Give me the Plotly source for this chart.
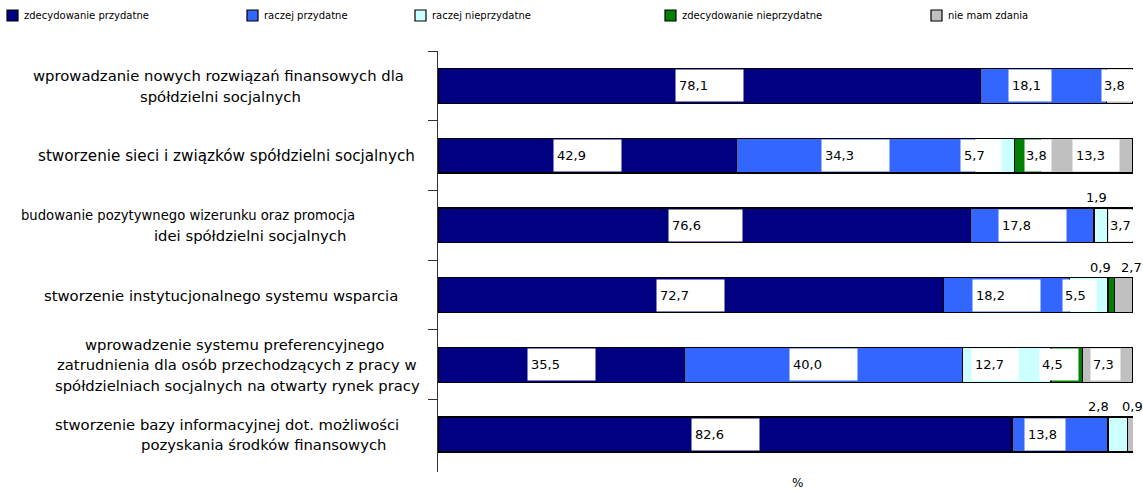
import plotly.graph_objects as go

# ---------------- data ----------------
categories = [
    "wprowadzanie nowych rozwiązań finansowych dla spółdzielni socjalnych",
    "stworzenie sieci i związków spółdzielni socjalnych",
    "budowanie pozytywnego wizerunku oraz promocja idei spółdzielni socjalnych",
    "stworzenie instytucjonalnego systemu wsparcia",
    "wprowadzenie systemu preferencyjnego zatrudnienia dla osób przechodzących z pracy w spółdzielniach socjalnych na otwarty rynek pracy",
    "stworzenie bazy informacyjnej dot. możliwości pozyskania środków finansowych",
]
series_names = ["zdecydowanie przydatne", "raczej przydatne", "raczej nieprzydatne",
                "zdecydowanie nieprzydatne", "nie mam zdania"]
zdecydowanie_przydatne = [78.1, 42.9, 76.6, 72.7, 35.5, 82.6]
raczej_przydatne = [18.1, 34.3, 17.8, 18.2, 40.0, 13.8]
raczej_nieprzydatne = [None, 5.7, 1.9, 5.5, 12.7, 2.8]
zdecydowanie_nieprzydatne = [None, 3.8, None, 0.9, 4.5, None]
nie_mam_zdania = [3.8, 13.3, 3.7, 2.7, 7.3, 0.9]

series_values = [zdecydowanie_przydatne, raczej_przydatne, raczej_nieprzydatne,
                 zdecydowanie_nieprzydatne, nie_mam_zdania]
colors = ["#000080", "#3366FF", "#CCFFFF", "#008000", "#C0C0C0"]

# ---------------- layout constants (pixels) ----------------
W, H = 1143, 490
L, R, T, B = 438, 10, 51, 18
PW = W - L - R
PH = H - T - B
FONT = "DejaVu Sans"


def px_to_xpaper(px):
    return (px - L) / PW


def px_to_ypaper(py):
    return 1 - (py - T) / PH


fig = go.Figure()

for name, vals, col in zip(series_names, series_values, colors):
    fig.add_trace(go.Bar(
        y=categories, x=vals, name=name, orientation="h",
        marker=dict(color=col, line=dict(color="#000000", width=1.3)),
        showlegend=False, hoverinfo="x+name",
    ))

# ---------------- manual legend ----------------
shapes = []
annotations = []
legend_symbol_left = [7, 247, 415, 665, 931]
for name, col, sx in zip(series_names, colors, legend_symbol_left):
    shapes.append(dict(
        type="rect", xref="paper", yref="paper",
        x0=px_to_xpaper(sx), x1=px_to_xpaper(sx + 11),
        y0=px_to_ypaper(21), y1=px_to_ypaper(10),
        fillcolor=col, line=dict(color="#000", width=1.2),
    ))
    annotations.append(dict(
        x=px_to_xpaper(sx + 15), y=px_to_ypaper(15.5), xref="paper", yref="paper",
        text=name, showarrow=False, xanchor="left", yanchor="middle",
        font=dict(family=FONT, size=10, color="#000"),
    ))

# ---------------- value label styles ----------------
# (row, series) -> (mode, box width px, xshift px, text padding px)
label_style = {
    (0, 1): ("in", 42, -14, 3), (0, 4): ("in", 31, -2, 2),
    (1, 2): ("in", 40, -13, 3), (1, 3): ("in", 26, 11, 1), (1, 4): ("in", 46, 9, 3),
    (2, 0): ("in", 73, 1, 3), (2, 2): ("out", 0, -4, 0), (2, 4): ("in", 24, 1, 1),
    (3, 2): ("in", 33, -9, 2), (3, 3): ("out", 0, -11, 0), (3, 4): ("out", 0, 8, 0),
    (4, 2): ("in", 46, -12, 3), (4, 3): ("in", 38, -8, 2), (4, 4): ("in", 29, -2, 2),
    (5, 1): ("in", 40, -15, 3), (5, 2): ("out", 0, -19, 0), (5, 4): ("out", 0, 2, 0),
}

for r, cat in enumerate(categories):
    cum = 0.0
    for s, vals in enumerate(series_values):
        v = vals[r]
        if v is None:
            continue
        center = cum + v / 2
        cum += v
        mode, bw, xs, pad = label_style.get((r, s), ("in", 67, 0, 3))
        txt = f"{v:.1f}".replace(".", ",")
        if mode == "in":
            annotations.append(dict(
                x=center, y=cat, xref="x", yref="y", text=txt, showarrow=False,
                xanchor="center", yanchor="middle", xshift=xs,
                bgcolor="#FFFFFF", borderpad=pad, width=bw - 2 * pad, height=31 - 2 * pad,
                align="left", valign="middle",
                font=dict(family=FONT, size=13, color="#000"),
            ))
        else:
            annotations.append(dict(
                x=center, y=cat, xref="x", yref="y", text=txt, showarrow=False,
                xanchor="center", yanchor="middle", xshift=xs, yshift=28,
                font=dict(family=FONT, size=13, color="#000"),
            ))

# ---------------- category labels (per line) ----------------
cat_lines = [
    [("wprowadzanie nowych rozwiązań finansowych dla", 218, 14.8), ("spółdzielni socjalnych", 220, 14.8)],
    [("stworzenie sieci i związków spółdzielni socjalnych", 226, 15.2)],
    [("budowanie pozytywnego wizerunku oraz promocja", 188, 13.2), ("idei spółdzielni socjalnych", 250, 14.8)],
    [("stworzenie instytucjonalnego systemu wsparcia", 221, 14.8)],
    [("wprowadzenie systemu preferencyjnego", 235, 14.8),
     ("zatrudnienia dla osób przechodzących z pracy w", 237, 14.8),
     ("spółdzielniach socjalnych na otwarty rynek pracy", 237, 14.8)],
    [("stworzenie bazy informacyjnej dot. możliwości", 227, 14.8), ("pozyskania środków finansowych", 263, 14.8)],
]
line_gap = 20.5
for r, lines in enumerate(cat_lines):
    n = len(lines)
    for k, (txt, cx, fs) in enumerate(lines):
        off = ((n - 1) / 2 - k) * line_gap
        annotations.append(dict(
            x=px_to_xpaper(cx), y=categories[r], xref="paper", yref="y",
            text=txt, showarrow=False, xanchor="center", yanchor="middle",
            yshift=off, font=dict(family=FONT, size=fs, color="#000"),
        ))

annotations.append(dict(
    x=px_to_xpaper(797), y=px_to_ypaper(483), xref="paper", yref="paper",
    text="%", showarrow=False, xanchor="center", yanchor="middle",
    font=dict(family=FONT, size=12, color="#000"),
))

fig.update_layout(
    width=W, height=H,
    margin=dict(l=L, r=R, t=T, b=B, pad=0, autoexpand=False),
    barmode="stack", bargap=0.5,
    plot_bgcolor="#FFFFFF", paper_bgcolor="#FFFFFF",
    font=dict(family=FONT, color="#000"),
    showlegend=False,
    annotations=annotations, shapes=shapes,
    xaxis=dict(range=[0, 100], showgrid=False, zeroline=False, showline=False,
               showticklabels=False, ticks="", fixedrange=True),
    yaxis=dict(categoryorder="array", categoryarray=categories, autorange="reversed",
               showgrid=False, zeroline=False, showline=True, linecolor="#333333",
               linewidth=1, ticks="outside", tickson="boundaries", ticklen=9,
               tickcolor="#333333", tickwidth=1, showticklabels=False, fixedrange=True),
)

fig.write_html(
    "out.html",
    config={"displayModeBar": False},
    post_script="document.body.style.margin='0px';document.body.style.overflow='hidden';",
)
